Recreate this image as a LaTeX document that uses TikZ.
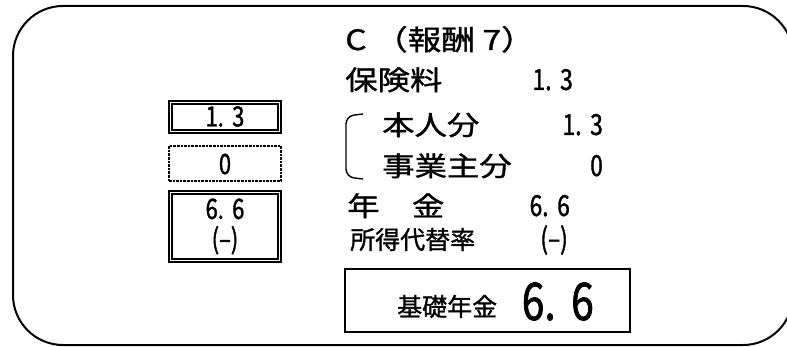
\documentclass[tikz,border=0pt]{standalone}
\usepackage{fontspec}
\newfontfamily\jpw[FakeStretch=1.2,FakeBold=1.2]{Noto Sans CJK JP}
\newfontfamily\jpn[FakeBold=1.2]{Noto Sans CJK JP}
\newfontfamily\num[FakeStretch=0.78,FakeBold=1.4]{Noto Sans CJK JP}
\usepackage{tikz}
\usetikzlibrary{positioning}

\newcommand{\pt}[2]{#1.\hspace{0.3em}#2}

\tikzset{
  dbox/.style={draw, double, double distance=1.7pt, line width=1.6pt, minimum width=109pt, inner sep=0pt, font=\num\fontsize{28}{30}\selectfont},
  dotbox/.style={draw, densely dotted, line width=2.6pt, minimum width=112pt, minimum height=35pt, inner sep=0pt, font=\num\fontsize{28}{30}\selectfont},
  lbl/.style={anchor=base west, inner sep=0pt, font=\jpw\fontsize{27}{30}\selectfont},
  val/.style={anchor=base east, inner sep=0pt, font=\num\fontsize{29}{30}\selectfont},
  small/.style={anchor=base west, inner sep=0pt, font=\jpn\fontsize{25}{30}\selectfont}
}

\begin{document}
\begin{tikzpicture}[x=1pt,y=-1pt]
\useasboundingbox (0,0) rectangle (787,347);

%ramka
\draw[line width=2pt, rounded corners=50pt] (13,6) rectangle (793,345);

%pola po lewej
\node[dbox, minimum height=29pt, text height=19pt, text depth=0pt] (b1) at (225,117) {\pt13};
\node[dotbox, text height=21pt, text depth=0pt] (b2) at (225,163.5) {0};
\node[dbox, minimum height=68pt, align=center] (b3) at (225,226.5) {\pt66\\(–)};

%naglowek
\node[lbl, font=\jpw\fontsize{28}{30}\selectfont] (title) at (345,50) {C （報酬 7）};

%skladki
\node[lbl] (prem) at (345,90) {保険料};
\node[val] (premval) at (573,90) {\pt13};
\draw[line width=1.4pt, rounded corners=8pt] (363,114) -- (346,116) -- (346,177) -- (363,179);
\node[lbl] (own) at (382,135) {本人分};
\node[val] (ownval) at (603,135) {\pt13};
\node[lbl] (empl) at (382,176) {事業主分};
\node[val] (emplval) at (603,176) {0};

%swiadczenia
\node[lbl] (pens) at (347,216) {年　金};
\node[val] (pensval) at (570,216) {\pt66};
\node[small] (repl) at (350,249) {所得代替率};
\node[val] (replval) at (568,249) {(–)};

%podstawowa
\draw[line width=1.6pt] (345,269) rectangle (630,332);
\node[small] (kiso) at (397,316) {基礎年金};
\node[val, font=\num\fontsize{52}{52}\selectfont] (kisoval) at (594,320) {\pt66};

%end
\end{tikzpicture}
\end{document}
